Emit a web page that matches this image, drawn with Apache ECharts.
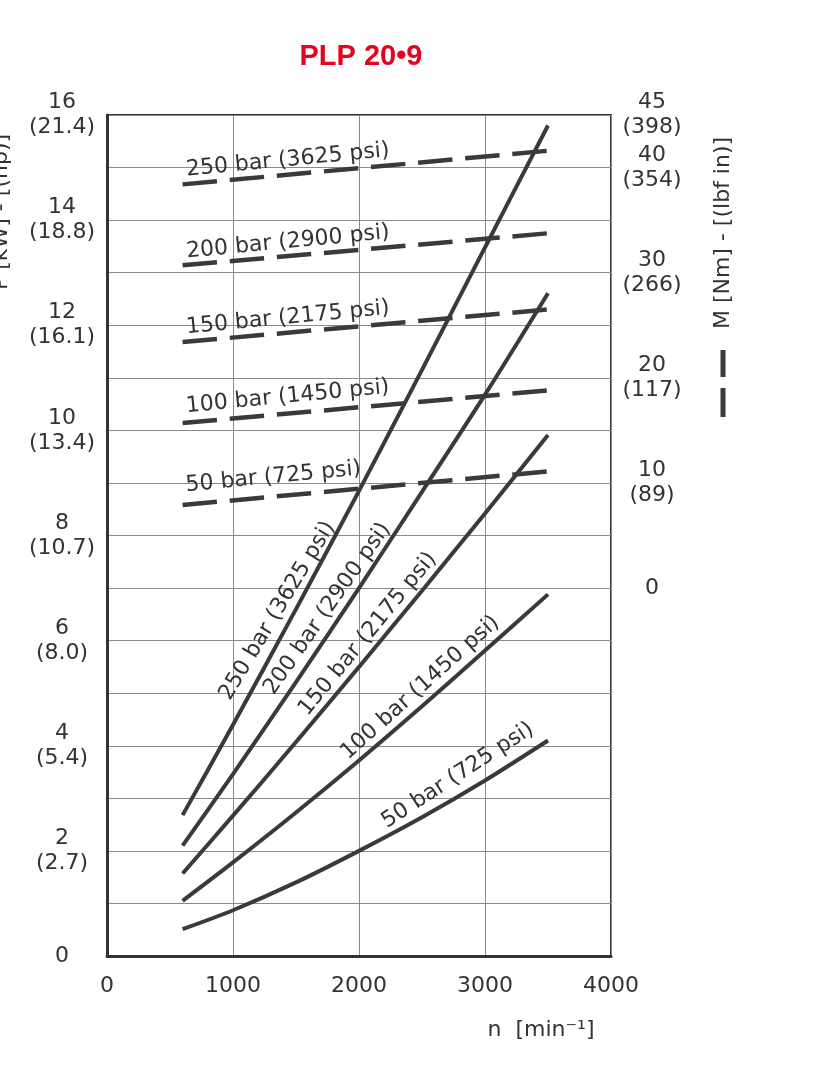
<!DOCTYPE html>
<html>
<head>
<meta charset="utf-8">
<script src="https://cdn.jsdelivr.net/npm/echarts@6/dist/echarts.min.js"></script>
<style>
html,body{margin:0;padding:0;background:#fff;}
#c{width:819px;height:1080px;}
</style>
</head>
<body>
<div id="c"></div>
<script>
// ---- data ----
const speeds = [600, 1000, 1500, 2000, 2500, 3000, 3500];           // n [min-1]
const power50  = [0.51, 0.87, 1.40, 2.00, 2.64, 3.34, 4.10];         // P [kW]
const power100 = [1.05, 1.78, 2.73, 3.72, 4.75, 5.81, 6.88];
const power150 = [1.57, 2.67, 4.07, 5.50, 6.95, 8.42, 9.91];
const power200 = [2.10, 3.46, 5.21, 7.00, 8.83, 10.68, 12.61];
const power250 = [2.68, 4.40, 6.60, 8.85, 11.15, 13.48, 15.80];

const torqueSpeeds = [600, 3500];
const torque50  = [7.9, 11.1];                                       // M [Nm]
const torque100 = [15.7, 18.8];
const torque150 = [23.4, 26.5];
const torque200 = [30.7, 33.75];
const torque250 = [38.4, 41.6];

const pressureLabels = ['50 bar (725 psi)', '100 bar (1450 psi)', '150 bar (2175 psi)', '200 bar (2900 psi)', '250 bar (3625 psi)'];

const xTicks = [0, 1000, 2000, 3000, 4000];
const leftTicks = [0, 2, 4, 6, 8, 10, 12, 14, 16];
const leftHp = ['', '2.7', '5.4', '8.0', '10.7', '13.4', '16.1', '18.8', '21.4'];
const rightTicks = [0, 10, 20, 30, 40, 45];
const rightLbf = ['', '89', '117', '266', '354', '398'];

// ---- styles / layout (not data) ----
const FONT = 'DejaVu Sans';
const FS = 22;
const INK = '#333333';
const LINE = '#3a3a3a';
const powerSets = [power50, power100, power150, power200, power250];
const torqueSets = [torque50, torque100, torque150, torque200, torque250];
const powerLabelLayout = [
  {idx: 5, rotate: 33,   offset: [-20, -19]},
  {idx: 4, rotate: 41.8, offset: [11, -15]},
  {idx: 3, rotate: 50.6, offset: [31, -14]},
  {idx: 3, rotate: 55,   offset: [-35, -14]},
  {idx: 2, rotate: 59,   offset: [-11, -15]}
];
const torqueLabelOffsetY = [-19, -16, -14, -13, -14];

const series = [];
powerSets.forEach((vals, s) => {
  const lay = powerLabelLayout[s];
  series.push({
    type: 'line', xAxisIndex: 0, yAxisIndex: 0,
    symbol: 'circle', symbolSize: 0, showSymbol: true,
    smooth: 0.3,
    lineStyle: {color: LINE, width: 4},
    itemStyle: {color: LINE},
    z: 5,
    data: speeds.map((n, i) => i === lay.idx ? {
      value: [n, vals[i]],
      label: {
        show: true, formatter: pressureLabels[s], position: 'inside',
        rotate: lay.rotate, offset: lay.offset, align: 'center', verticalAlign: 'middle',
        fontFamily: FONT, fontSize: FS, color: INK
      }
    } : [n, vals[i]])
  });
});
torqueSets.forEach((vals, s) => {
  series.push({
    type: 'line', xAxisIndex: 0, yAxisIndex: 1,
    symbol: 'circle', symbolSize: 0, showSymbol: true,
    lineStyle: {color: LINE, width: 4.5, type: [34.5, 12.8]},
    itemStyle: {color: LINE},
    z: 5,
    data: torqueSpeeds.map((n, i) => i === 0 ? {
      value: [n, vals[i]],
      label: {
        show: true, formatter: pressureLabels[s], position: 'inside',
        rotate: 5.5, offset: [5, torqueLabelOffsetY[s]], align: 'left', verticalAlign: 'middle',
        fontFamily: FONT, fontSize: FS, color: INK
      }
    } : [n, vals[i]])
  });
});

const chart = echarts.init(document.getElementById('c'), null, {renderer: 'canvas'});
chart.setOption({
  animation: false,
  backgroundColor: '#ffffff',
  grid: {left: 107, right: 208, top: 115, bottom: 124, show: true, borderColor: '#333', borderWidth: 2, containLabel: false},
  xAxis: {
    type: 'value', min: xTicks[0], max: xTicks[xTicks.length - 1], interval: 1000,
    axisLine: {show: true, onZero: false, lineStyle: {color: '#333', width: 3}},
    axisTick: {show: false},
    splitLine: {show: true, lineStyle: {color: '#8a8a8a', width: 1}},
    axisLabel: {margin: 19, fontFamily: FONT, fontSize: FS, color: INK,
      formatter: v => xTicks.indexOf(v) >= 0 ? String(v) : ''}
  },
  yAxis: [{
    type: 'value', position: 'left', min: 0, max: 16, interval: 1,
    axisLine: {show: true, lineStyle: {color: '#333', width: 3}},
    axisTick: {show: false},
    splitLine: {show: true, lineStyle: {color: '#8a8a8a', width: 1}},
    axisLabel: {margin: 45, align: 'center', lineHeight: 25, fontFamily: FONT, fontSize: FS, color: INK,
      formatter: v => {
        const k = leftTicks.indexOf(v);
        if (k < 0) return '';
        return leftHp[k] ? v + '\n(' + leftHp[k] + ')' : String(v);
      }}
  }, {
    type: 'value', position: 'right', min: -35, max: 45, interval: 5,
    axisLine: {show: false}, axisTick: {show: false}, splitLine: {show: false},
    axisLabel: {margin: 41, align: 'center', lineHeight: 25, fontFamily: FONT, fontSize: FS, color: INK,
      formatter: v => {
        const k = rightTicks.indexOf(v);
        if (k < 0) return '';
        return rightLbf[k] ? v + '\n(' + rightLbf[k] + ')' : String(v);
      }}
  }],
  graphic: [
    {type: 'text', x: 361, y: 57, style: {text: 'PLP 20•9', fill: '#e3051b', font: 'bold 29px "Liberation Sans", Arial', align: 'center', verticalAlign: 'middle'}},
    {type: 'text', x: 541, y: 1030, style: {text: 'n  [min⁻¹]', fill: INK, font: FS + 'px "DejaVu Sans"', align: 'center', verticalAlign: 'middle'}},
    {type: 'text', x: 1, y: 212, rotation: Math.PI / 2, style: {text: 'P [kW] - [(hp)]', fill: INK, font: FS + 'px "DejaVu Sans"', align: 'center', verticalAlign: 'middle'}},
    {type: 'text', x: 723, y: 233, rotation: Math.PI / 2, style: {text: 'M [Nm] - [(lbf in)]', fill: INK, font: FS + 'px "DejaVu Sans"', align: 'center', verticalAlign: 'middle'}},
    {type: 'line', shape: {x1: 723, y1: 417, x2: 723, y2: 350}, style: {stroke: LINE, lineWidth: 5, lineDash: [29, 11]}}
  ],
  series: series
});
</script>
</body>
</html>
